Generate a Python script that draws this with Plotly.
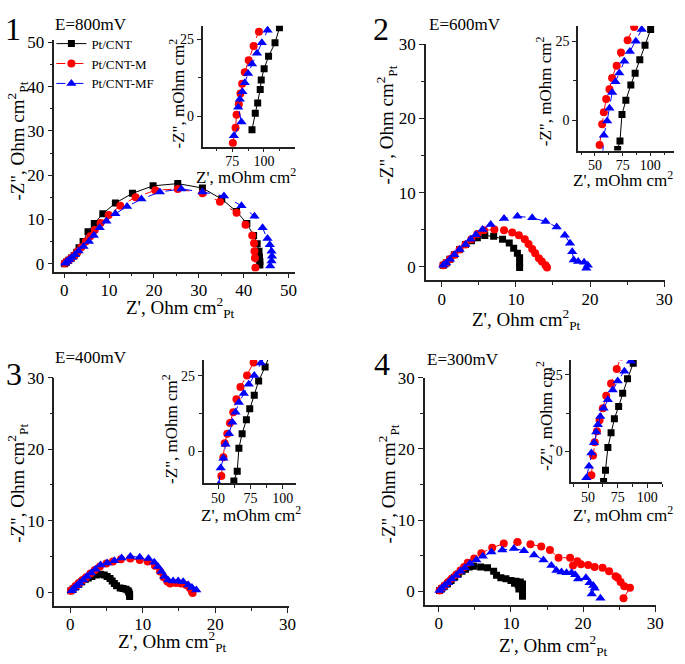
import plotly.graph_objects as go

W, H = 685, 664
FONT = "Liberation Serif, Times New Roman, serif"

# ---------------- data ----------------
series_names = ["Pt/CNT", "Pt/CNT-M", "Pt/CNT-MF"]
panel_labels = ["1", "2", "3", "4"]
potential_labels = ["E=800mV", "E=600mV", "E=400mV", "E=300mV"]

# Panel 1 (E=800 mV)
p1_cnt_x = [0.1, 0.5, 1.0, 1.6, 2.2, 2.8, 3.3, 4.2, 5.3, 6.7, 8.6, 11.4, 15.2, 19.8, 25.3, 30.8, 35.1, 38.4, 40.7, 42.2, 43.0, 43.4, 43.5, 43.6, 43.6]
p1_cnt_y = [0.0, 0.4, 0.8, 1.3, 1.8, 2.6, 3.6, 5.0, 7.2, 9.1, 11.3, 13.7, 15.9, 17.6, 18.1, 17.1, 14.6, 11.8, 9.1, 6.4, 4.5, 2.8, 1.5, 0.5, -0.3]
p1_m_x = [0.1, 0.5, 1.0, 1.6, 2.3, 3.0, 3.8, 4.8, 5.8, 6.8, 8.1, 9.9, 12.5, 15.9, 20.3, 25.3, 30.8, 34.7, 38.4, 40.4, 41.9, 42.3, 42.4, 42.5, 42.6]
p1_m_y = [0.1, 0.4, 0.8, 1.3, 1.9, 2.7, 3.7, 5.0, 6.2, 7.6, 9.2, 11.0, 13.1, 15.0, 16.6, 16.9, 15.9, 14.0, 11.5, 8.8, 6.4, 4.6, 2.8, 1.3, -0.9]
p1_mf_x = [0.2, 0.6, 1.1, 1.7, 2.4, 3.2, 4.3, 5.5, 6.6, 7.9, 9.4, 11.4, 14.0, 17.2, 21.3, 26.1, 30.8, 35.6, 39.5, 42.4, 44.2, 45.3, 45.8, 46.2, 46.3, 46.2, 45.9]
p1_mf_y = [0.1, 0.5, 0.9, 1.4, 2.0, 2.9, 3.9, 5.0, 6.4, 8.1, 9.6, 11.3, 12.9, 14.6, 16.2, 16.9, 16.2, 15.3, 13.1, 10.7, 8.1, 5.7, 4.3, 2.8, 1.7, 0.6, -0.5]
# Panel 1 inset (mOhm cm2)
i1_cnt_x = [90.6, 93.2, 95.1, 97.1, 97.9, 100.2, 103.7, 108.8, 112.3]
i1_cnt_y = [-4.4, 1.0, 4.3, 8.7, 11.8, 15.5, 19.5, 23.9, 28.8]
i1_m_x = [75.5, 77.6, 78.4, 80.2, 81.5, 82.8, 84.9, 88.0, 91.9, 96.1, 99.0]
i1_m_y = [-8.7, -3.8, 0.5, 3.9, 7.4, 10.6, 14.3, 18.2, 22.9, 27.5, 31.5]
i1_mf_x = [76.3, 82.3, 79.7, 81.0, 83.0, 84.9, 87.5, 90.6, 94.5, 98.4, 102.9, 106.0]
i1_mf_y = [-6.4, -1.9, 2.9, 5.5, 8.0, 10.9, 13.9, 17.0, 20.5, 23.9, 28.0, 32.0]

# Panel 2 (E=600 mV)
p2_cnt_x = [0.2, 0.6, 1.1, 1.7, 2.4, 3.2, 4.0, 4.8, 5.8, 7.0, 8.2, 9.1, 9.7, 10.2, 10.5, 10.5, 10.5]
p2_cnt_y = [0.2, 0.5, 1.0, 1.6, 2.3, 3.0, 3.5, 3.9, 4.2, 4.1, 3.7, 3.2, 2.5, 1.8, 1.2, 0.5, -0.1]
p2_m_x = [0.2, 0.6, 1.1, 1.7, 2.4, 3.2, 4.0, 4.8, 5.7, 7.1, 8.4, 9.5, 10.4, 11.2, 11.7, 12.2, 12.6, 13.1, 13.5, 14.0, 14.2]
p2_m_y = [0.2, 0.5, 1.0, 1.6, 2.3, 3.0, 3.7, 4.4, 4.9, 5.0, 4.9, 4.6, 4.25, 3.7, 3.05, 2.4, 1.8, 1.15, 0.7, 0.2, -0.1]
p2_mf_x = [0.2, 0.6, 1.1, 1.7, 2.4, 3.2, 3.9, 4.6, 5.5, 6.6, 8.4, 10.2, 12.2, 14.0, 15.5, 16.6, 17.3, 17.6, 17.8, 18.4, 19.2, 19.7, 19.5]
p2_mf_y = [0.2, 0.5, 1.0, 1.6, 2.3, 3.0, 3.7, 4.3, 5.0, 5.7, 6.5, 6.8, 6.6, 6.1, 5.35, 4.25, 3.15, 2.0, 0.9, 0.7, 0.6, 0.2, -0.2]
i2_cnt_x = [70.5, 72.6, 74.4, 77.9, 82.4, 86.3, 90.5, 95.2, 100.3]
i2_cnt_y = [-9.3, -6.6, 1.8, 6.3, 11.2, 14.9, 19.2, 23.8, 28.8]
i2_m_x = [54.2, 56.5, 58.0, 60.1, 63.1, 65.5, 69.6, 73.5, 79.5, 85.4, 89.0]
i2_m_y = [-7.9, -1.3, 2.5, 6.7, 9.8, 13.4, 17.3, 21.5, 25.4, 29.6, 33.0]
i2_mf_x = [57.0, 58.0, 61.0, 63.1, 65.5, 68.5, 72.0, 76.5, 81.5, 86.9, 92.3, 96.0]
i2_mf_y = [-11.0, -4.8, -0.3, 3.75, 8.75, 12.2, 15.0, 18.7, 21.8, 25.1, 28.8, 32.0]

# Panel 3 (E=400 mV)
p3_cnt_x = [0.1, 0.4, 0.8, 1.2, 1.6, 2.1, 2.5, 3.0, 3.6, 4.2, 4.7, 5.1, 5.5, 5.8, 6.1, 6.4, 6.9, 7.3, 7.7, 8.0, 8.1, 8.2, 8.2]
p3_cnt_y = [0.2, 0.4, 0.8, 1.1, 1.45, 1.8, 2.0, 2.2, 2.4, 2.5, 2.4, 2.2, 1.9, 1.55, 1.2, 0.9, 0.6, 0.5, 0.4, 0.2, 0.0, -0.3, -0.6]
p3_m_x = [0.1, 0.4, 0.8, 1.2, 1.7, 2.2, 2.8, 3.4, 4.1, 5.0, 5.9, 7.0, 8.3, 9.6, 10.7, 11.7, 12.4, 12.9, 13.4, 13.8, 14.6, 15.3, 16.0, 16.5, 16.8, 16.9]
p3_m_y = [0.2, 0.5, 0.9, 1.3, 1.7, 2.1, 2.6, 3.1, 3.6, 4.0, 4.3, 4.6, 4.7, 4.5, 4.3, 3.7, 2.9, 2.1, 1.5, 1.2, 1.3, 1.2, 1.0, 0.6, 0.1, -0.1]
p3_mf_x = [0.2, 0.5, 0.9, 1.3, 1.8, 2.3, 2.9, 3.5, 4.2, 5.1, 6.1, 7.1, 8.3, 9.6, 10.8, 11.6, 12.1, 12.6, 13.0, 13.5, 14.2, 14.9, 15.6, 16.3, 16.8, 17.4]
p3_mf_y = [0.2, 0.5, 0.9, 1.3, 1.7, 2.2, 2.7, 3.2, 3.8, 4.1, 4.4, 4.8, 5.0, 4.9, 4.7, 4.2, 3.6, 2.9, 2.2, 1.7, 1.55, 1.55, 1.45, 1.0, 0.65, 0.3]
i3_cnt_x = [62.2, 64.8, 66.1, 68.6, 71.9, 74.5, 78.0, 81.4, 86.4, 90.0]
i3_cnt_y = [-9.7, -6.5, 1.1, 5.9, 10.5, 14.1, 18.6, 23.3, 27.9, 32.0]
i3_m_x = [52.5, 54.1, 55.1, 57.1, 59.2, 61.7, 64.2, 67.3, 72.4, 77.5, 80.0]
i3_m_y = [-8.1, -1.9, 2.7, 5.9, 9.4, 13.0, 17.3, 21.3, 25.1, 29.4, 32.0]
i3_mf_x = [50.5, 52.0, 54.1, 55.8, 58.4, 61.0, 63.5, 66.1, 69.9, 73.7, 78.0, 83.1, 87.0]
i3_mf_y = [-11.0, -5.4, -2.2, 2.4, 5.9, 9.7, 13.0, 16.2, 19.2, 22.2, 25.1, 29.2, 32.0]

# Panel 4 (E=300 mV)
p4_cnt_x = [0.1, 0.4, 0.8, 1.2, 1.7, 2.2, 2.7, 3.2, 3.7, 4.2, 4.8, 5.8, 6.75, 7.6, 8.0, 8.6, 9.3, 10.0, 10.7, 11.3, 11.6, 11.6, 11.0, 10.5, 11.1, 11.6, 11.6]
p4_cnt_y = [0.1, 0.35, 0.7, 1.05, 1.5, 1.95, 2.4, 2.8, 3.1, 3.4, 3.5, 3.4, 3.3, 2.8, 2.25, 1.9, 1.75, 1.5, 1.4, 1.3, 1.0, 0.5, 0.9, 1.1, 0.3, -0.2, -0.7]
p4_m_x = [0.1, 0.4, 0.8, 1.3, 1.8, 2.4, 3.0, 3.5, 4.0, 4.9, 5.9, 7.4, 9.0, 10.9, 12.7, 14.2, 15.4, 16.6, 18.2, 19.2, 18.6, 19.7, 20.7, 21.6, 22.7, 23.6, 24.5, 24.8, 25.2, 25.7, 26.5, 25.6]
p4_m_y = [0.1, 0.4, 0.8, 1.3, 1.8, 2.3, 2.9, 3.4, 4.0, 4.6, 5.35, 6.1, 6.7, 6.9, 6.6, 6.3, 5.8, 4.7, 4.7, 4.2, 3.6, 3.8, 3.7, 3.4, 3.3, 2.8, 2.1, 1.9, 1.3, 0.7, 0.5, -1.0]
p4_mf_x = [0.1, 0.4, 0.8, 1.3, 1.8, 2.4, 3.0, 3.6, 4.3, 5.2, 6.1, 7.3, 8.8, 10.4, 11.8, 13.2, 14.5, 15.6, 16.3, 17.0, 17.7, 18.4, 18.9, 19.3, 20.4, 20.9, 21.4, 21.6, 21.2, 22.4]
p4_mf_y = [0.1, 0.4, 0.8, 1.2, 1.7, 2.2, 2.8, 3.3, 3.9, 4.4, 4.9, 5.5, 5.8, 6.0, 5.7, 5.1, 4.4, 3.6, 2.9, 2.7, 2.6, 2.6, 2.3, 1.7, 1.9, 1.2, 0.8, 0.4, -0.4, -1.0]
i4_cnt_x = [63.1, 64.7, 66.7, 69.4, 72.2, 75.8, 79.2, 83.3, 88.1]
i4_cnt_y = [-9.8, -6.1, 1.3, 6.1, 10.7, 14.7, 19.0, 23.7, 28.8]
i4_m_x = [52.8, 54.2, 55.6, 57.5, 59.7, 62.5, 65.3, 69.4, 74.2, 78.0]
i4_m_y = [-7.7, -1.3, 3.0, 6.6, 10.2, 14.1, 18.2, 22.2, 26.9, 31.0]
i4_mf_x = [48.6, 50.8, 52.8, 55.0, 56.9, 58.3, 60.3, 63.1, 66.7, 70.8, 75.0, 80.6, 86.1]
i4_mf_y = [-8.5, -4.8, -0.5, 2.9, 6.4, 8.75, 11.4, 14.1, 16.9, 20.1, 23.0, 26.2, 29.4]

# ---------------- styles ----------------
colors = ["#000000", "#ff0000", "#0000ff"]
symbols = ["square", "circle", "triangle-up"]
msizes = [7, 8, 9]
dashes = ["solid", "dash", "dash"]


def pxx(p):
    return p / W


def pxy(p):
    return 1 - p / H


def axis(p0, p1, va, pa, vb, pb, horiz, dtick, mdtick, fsize, anchor, ticklen=5):
    s = (vb - va) / (pb - pa)
    rng = [va + (p0 - pa) * s, va + (p1 - pa) * s]
    dom = [pxx(p0), pxx(p1)] if horiz else [pxy(p0), pxy(p1)]
    d = dict(
        domain=dom, range=rng, anchor=anchor, showline=True, linecolor="#222",
        linewidth=1.5, ticks="outside", ticklen=ticklen, tickwidth=1.3,
        tickcolor="#222", dtick=dtick, tick0=0, showgrid=False, zeroline=False,
        tickfont=dict(family=FONT, size=fsize, color="black"),
        minor=dict(dtick=mdtick, ticks="outside", ticklen=3, tickcolor="#222", tickwidth=1),
        mirror=False, fixedrange=True,
    )
    if horiz:
        d["ticklabelstandoff"] = -3
    return d


fig = go.Figure()

panels = [
    ([p1_cnt_x, p1_m_x, p1_mf_x], [p1_cnt_y, p1_m_y, p1_mf_y],
     [i1_cnt_x, i1_m_x, i1_mf_x], [i1_cnt_y, i1_m_y, i1_mf_y]),
    ([p2_cnt_x, p2_m_x, p2_mf_x], [p2_cnt_y, p2_m_y, p2_mf_y],
     [i2_cnt_x, i2_m_x, i2_mf_x], [i2_cnt_y, i2_m_y, i2_mf_y]),
    ([p3_cnt_x, p3_m_x, p3_mf_x], [p3_cnt_y, p3_m_y, p3_mf_y],
     [i3_cnt_x, i3_m_x, i3_mf_x], [i3_cnt_y, i3_m_y, i3_mf_y]),
    ([p4_cnt_x, p4_m_x, p4_mf_x], [p4_cnt_y, p4_m_y, p4_mf_y],
     [i4_cnt_x, i4_m_x, i4_mf_x], [i4_cnt_y, i4_m_y, i4_mf_y]),
]

for k, (mx, my, ix, iy) in enumerate(panels):
    na = 2 * k + 1
    ni = 2 * k + 2
    xa_m = "x" if na == 1 else f"x{na}"
    ya_m = "y" if na == 1 else f"y{na}"
    for j in range(3):
        fig.add_trace(go.Scatter(
            x=mx[j], y=my[j], xaxis=xa_m, yaxis=ya_m, mode="lines+markers",
            name=series_names[j], showlegend=(k == 0),
            line=dict(color=colors[j], width=1, dash=dashes[j]),
            marker=dict(symbol=symbols[j], size=msizes[j], color=colors[j], line=dict(width=0)),
        ))
    for j in range(3):
        fig.add_trace(go.Scatter(
            x=ix[j], y=iy[j], xaxis=f"x{ni}", yaxis=f"y{ni}", mode="lines+markers",
            name=series_names[j], showlegend=False,
            line=dict(color=colors[j], width=1, dash=dashes[j]),
            marker=dict(symbol=symbols[j], size=msizes[j], color=colors[j], line=dict(width=0)),
        ))

# axis geometry (pixels): start, end, calibration value/pixel pairs
layout_axes = {}
# panel 1
layout_axes["xaxis"] = axis(55, 298, 0, 65, 50, 292, True, 10, 5, 17, "y")
layout_axes["yaxis"] = axis(267, 32, 0, 259, 50, 34, False, 10, 5, 17, "x")
layout_axes["xaxis2"] = axis(205, 298, 50, 203, 100, 267, True, 25, 12.5, 14, "y2", 4)
layout_axes["yaxis2"] = axis(140, 17, 0, 109, 25, 31, False, 25, 12.5, 14, "x2", 4)
# panel 2
layout_axes["xaxis3"] = axis(431, 673, 0, 447, 30, 672, True, 10, 5, 17, "y3")
layout_axes["yaxis3"] = axis(276, 36, 0, 262, 30, 36, False, 10, 5, 17, "x3")
layout_axes["xaxis4"] = axis(585, 682, 50, 602, 100, 658, True, 25, 12.5, 14, "y4", 4)
layout_axes["yaxis4"] = axis(144, 17, 0, 113, 25, 33, False, 25, 12.5, 14, "x4", 4)
# panel 3
layout_axes["xaxis5"] = axis(55, 292, 0, 71, 30, 291, True, 10, 5, 17, "y5")
layout_axes["yaxis5"] = axis(607, 375, 0, 593, 30, 375, False, 10, 5, 17, "x5")
layout_axes["xaxis6"] = axis(206, 299, 50, 220.7, 100, 286, True, 25, 12.5, 14, "y6", 4)
layout_axes["yaxis6"] = axis(482, 357, 0, 450, 25, 373, False, 25, 12.5, 14, "x6", 4)
# panel 4
layout_axes["xaxis7"] = axis(430, 664, 0, 444, 30, 663, True, 10, 5, 17, "y7")
layout_axes["yaxis7"] = axis(606, 375, 0, 592, 30, 375, False, 10, 5, 17, "x7")
layout_axes["xaxis8"] = axis(578, 670, 50, 595, 100, 655, True, 25, 12.5, 14, "y8", 4)
layout_axes["yaxis8"] = axis(481, 357, 0, 450, 25, 372, False, 25, 12.5, 14, "x8", 4)

ann = []


def text(s, x, y, size, angle=0):
    ann.append(dict(text=s, x=pxx(x), y=pxy(y), xref="paper", yref="paper",
                    showarrow=False, textangle=angle, xanchor="center", yanchor="middle",
                    font=dict(family=FONT, size=size, color="black")))


ytitle_main = '-Z", Ohm cm<sup>2</sup><sub>Pt</sub>'
xtitle_main = "Z', Ohm cm<sup>2</sup><sub>Pt</sub>"
ytitle_in = '-Z", mOhm cm<sup>2</sup>'
xtitle_in = "Z', mOhm cm<sup>2</sup>"

# panel numbers and potentials
for lab, pos in zip(panel_labels, [(13, 20), (386, 20), (14, 371), (387, 361)]):
    text(lab, pos[0], pos[1], 32)
for lab, pos in zip(potential_labels, [(92, 16), (470, 16), (92, 354), (468, 356)]):
    text(lab, pos[0], pos[1], 17)

# main axis titles
for pos in [(18, 134), (391, 118), (17, 482), (394, 483)]:
    text(ytitle_main, pos[0], pos[1], 19, -90)
for pos in [(183, 304), (533, 316), (175, 643), (560, 647)]:
    text(xtitle_main, pos[0], pos[1], 19)
# inset titles
for pos in [(179, 86), (550, 84), (172, 427), (551, 414)]:
    text(ytitle_in, pos[0], pos[1], 17, -90)
for pos in [(249, 170), (630, 173), (254, 513), (630, 513)]:
    text(xtitle_in, pos[0], pos[1], 17)

fig.update_layout(
    width=W, height=H, autosize=False,
    margin=dict(l=0, r=0, t=0, b=0),
    paper_bgcolor="white", plot_bgcolor="rgba(0,0,0,0)",
    font=dict(family=FONT, color="black"),
    legend=dict(x=pxx(52), y=pxy(20), xanchor="left", yanchor="top",
                bgcolor="rgba(0,0,0,0)", font=dict(family=FONT, size=13),
                tracegroupgap=0, itemwidth=30),
    annotations=ann,
    **layout_axes,
)

pin_js = (
    "document.documentElement.style.margin='0';"
    "document.documentElement.style.overflow='hidden';"
    "document.body.style.margin='0';document.body.style.padding='0';"
    "document.body.style.overflow='hidden';"
    "var gd=document.getElementById('{plot_id}');"
    "gd.style.position='fixed';gd.style.top='0px';gd.style.left='0px';"
)
fig.write_html("out.html", config={"displayModeBar": False}, post_script=pin_js)
